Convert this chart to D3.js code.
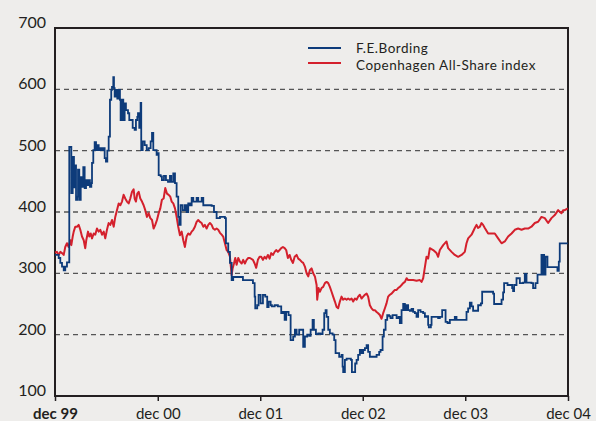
<!DOCTYPE html>
<html>
<head>
<meta charset="utf-8">
<script src="https://cdn.jsdelivr.net/npm/d3@7"></script>
<style>
  html, body { margin: 0; padding: 0; background: #eeedeb; }
  svg { display: block; }
  text { font-family: Lato, "Open Sans", sans-serif; fill: #231f20; }
</style>
</head>
<body>
<svg id="chart" width="596" height="421"></svg>
<script>
// ---- data (months since 1 Dec 1999, value) ----
const startDate = new Date(1999, 11, 1);
const endDate = new Date(2004, 11, 1);
const yTicks = [100, 200, 300, 400, 500, 600, 700];
const gridValues = [200, 300, 400, 500, 600];
const xTickLabels = ["dec 99", "dec 00", "dec 01", "dec 02", "dec 03", "dec 04"];
const seriesNames = ["F.E.Bording", "Copenhagen All-Share index"];

const bordingMonths = [0,0.23,0.43,0.62,0.82,1.02,1.20,1.40,1.60,1.67,1.79,1.91,2.07,2.22,2.30,2.46,2.61,2.69,2.84,3.01,3.16,3.31,3.47,3.63,3.78,3.94,4.09,4.25,4.33,4.48,4.64,4.80,4.95,5.11,5.30,5.50,5.70,5.81,5.96,6.12,6.28,6.43,6.58,6.67,6.82,6.90,6.98,7.13,7.29,7.45,7.60,7.68,7.84,7.99,8.15,8.30,8.54,8.69,8.92,9.09,9.32,9.47,9.63,9.71,9.86,10.02,10.09,10.26,10.49,10.73,10.96,11.19,11.35,11.50,11.73,11.89,12.05,12.13,12.36,12.51,12.75,12.98,13.22,13.45,13.60,13.84,14.04,14.23,14.42,14.54,14.70,14.94,15.20,15.40,15.59,15.79,15.99,16.18,16.57,16.76,17.16,17.35,17.93,18.33,18.60,18.91,19.30,19.88,20.00,20.27,20.47,20.67,20.85,21.60,21.99,22.77,23.16,23.36,23.43,23.66,23.82,24.06,24.33,24.60,24.83,24.99,25.23,25.38,25.70,26.08,26.47,26.67,26.87,27.05,27.33,27.57,27.87,28.07,28.27,28.57,28.85,29.04,29.24,29.51,29.74,29.91,30.14,30.29,30.53,30.80,31.08,31.31,31.50,31.66,31.78,31.97,32.16,32.48,32.67,32.83,33.06,33.25,33.53,33.65,33.72,33.92,34.12,34.39,34.62,34.74,34.97,35.12,35.29,35.47,35.67,35.87,36.06,36.26,36.46,36.64,36.84,37.23,37.63,37.93,38.09,38.33,38.48,38.68,38.87,39.10,39.26,39.50,39.77,39.97,40.20,40.35,40.55,40.74,40.94,41.14,41.32,41.52,41.72,41.91,42.11,42.30,42.49,42.77,43.08,43.28,43.47,43.66,43.74,43.98,44.06,44.44,44.83,45.03,45.30,45.53,45.70,45.93,46.20,46.59,46.78,46.98,47.95,48.15,48.34,48.54,48.74,48.92,49.44,49.51,49.83,49.98,51.07,51.26,51.38,52.05,52.25,52.43,52.55,52.95,53.49,53.60,53.72,54.00,54.39,54.77,54.97,55.17,55.75,55.94,56.22,56.46,56.84,56.92,56.99,57.11,57.23,57.39,57.62,58.28,58.79,58.95,59.06,60.00];
const bordingValues = [330,330,325,317,311,305,311,318,318,506,506,431,490,440,476,420,425,469,420,457,441,473,439,452,444,452,441,447,480,501,514,501,509,501,504,501,504,488,482,500,523,583,599,604,620,602,588,599,585,599,583,550,583,550,577,566,561,550,550,537,534,550,555,561,537,578,501,515,509,501,504,515,529,501,501,493,496,460,458,452,459,452,449,459,449,463,447,425,392,379,411,403,411,400,414,411,423,417,423,417,423,411,411,410,400,390,392,390,349,335,317,289,294,294,289,289,284,262,243,248,265,251,265,262,245,254,248,246,248,246,235,237,224,237,232,191,197,208,200,208,208,180,197,200,198,208,224,208,201,202,201,208,235,240,229,208,202,200,191,170,170,164,167,148,139,159,161,161,159,139,139,153,159,167,175,170,175,178,183,172,164,164,167,172,175,197,208,224,232,230,227,232,232,227,229,219,240,250,240,248,240,239,242,237,235,229,240,237,235,229,230,216,212,216,229,229,227,229,240,240,221,219,224,224,229,224,224,237,243,252,246,239,239,248,251,270,270,267,250,250,257,269,284,281,276,271,281,292,284,285,299,285,284,276,284,298,298,330,298,330,298,327,310,310,304,319,349,349];

const indexMonths = [0,0.23,0.43,0.62,0.82,1.02,1.20,1.40,1.60,1.79,1.91,2.07,2.19,2.37,2.57,2.77,2.96,3.16,3.36,3.54,3.66,3.86,4.01,4.18,4.33,4.53,4.71,4.91,5.11,5.30,5.50,5.70,5.88,6.08,6.28,6.47,6.67,6.87,7.05,7.25,7.45,7.64,7.84,8.03,8.22,8.42,8.62,8.81,9.01,9.20,9.32,9.47,9.63,9.79,9.98,10.18,10.37,10.56,10.76,10.96,11.15,11.35,11.54,11.73,11.93,12.13,12.32,12.51,12.71,12.90,13.10,13.30,13.49,13.65,13.84,14.04,14.23,14.42,14.62,14.82,15.01,15.20,15.40,15.59,15.79,15.99,16.18,16.37,16.57,16.76,16.96,17.16,17.35,17.54,17.74,17.93,18.13,18.33,18.51,18.71,18.91,19.10,19.30,19.50,19.68,19.88,20.08,20.27,20.47,20.67,20.78,20.94,21.09,21.25,21.44,21.64,21.84,22.02,22.22,22.42,22.61,22.81,23.16,23.36,23.54,23.74,23.94,24.13,24.33,24.53,24.71,24.91,25.11,25.30,25.50,25.70,25.88,26.08,26.28,26.47,26.67,26.87,27.05,27.25,27.45,27.64,27.84,28.04,28.27,28.46,28.66,28.85,29.04,29.24,29.44,29.63,29.82,30.02,30.21,30.41,30.61,30.68,30.84,30.99,31.19,31.38,31.58,31.78,31.97,32.16,32.36,32.55,32.75,32.95,33.13,33.33,33.53,33.72,33.92,34.12,34.30,34.50,34.70,34.89,35.09,35.29,35.47,35.67,35.87,36.06,36.26,36.46,36.64,36.84,37.04,37.23,37.43,37.63,37.81,38.01,38.21,38.40,38.60,38.79,38.98,39.18,39.38,39.57,39.77,39.97,40.15,40.35,40.55,40.74,40.94,41.14,41.32,41.91,42.30,42.69,42.89,43.08,43.28,43.47,43.66,43.86,44.25,44.64,44.83,45.03,45.42,45.81,46.00,46.40,46.78,47.17,47.57,47.95,48.15,48.34,48.74,49.12,49.32,49.51,49.71,49.91,50.09,50.29,50.68,51.07,51.46,51.85,52.25,52.63,53.02,53.42,53.80,54.19,54.59,54.97,55.36,55.75,56.14,56.53,56.92,57.31,57.70,58.09,58.48,58.87,59.26,59.45,59.65,60.00];
const indexValues = [334,335,330,335,333,330,343,349,343,354,346,360,368,376,376,379,371,360,354,341,354,368,360,365,357,365,363,373,368,371,363,368,357,371,382,379,387,376,392,403,414,411,417,428,422,417,414,422,433,437,422,417,430,433,422,417,411,403,392,398,390,387,373,379,387,398,406,420,422,439,430,428,425,417,414,406,392,376,362,368,354,343,360,365,363,368,371,376,384,387,384,382,376,379,373,379,382,379,373,371,373,371,366,363,360,349,338,335,327,297,308,316,325,314,325,319,316,322,316,322,325,325,322,316,309,322,327,327,322,327,324,330,324,333,330,335,338,335,338,341,343,341,338,325,330,322,317,327,330,324,322,319,317,311,300,295,305,308,300,295,281,257,276,270,276,278,284,286,284,278,270,262,254,245,243,254,262,257,259,257,259,257,259,254,259,257,262,265,259,262,265,267,262,248,243,240,240,237,235,232,226,235,243,251,262,265,267,270,273,273,276,278,281,284,286,292,289,289,288,289,286,292,310,327,324,341,338,333,327,338,346,352,341,335,330,327,330,335,349,357,363,374,379,374,376,382,379,374,365,365,365,357,349,352,360,365,371,373,371,373,373,376,382,384,392,390,382,390,395,403,398,403,403,406];

// ---- layout ----
const svg = d3.select("#chart");
const plot = { left: 55, right: 568, top: 28, bottom: 396 };

const x = d3.scaleTime().domain([startDate, endDate]).range([plot.left, plot.right]);
const y = d3.scaleLinear().domain([100, 700]).range([plot.bottom, plot.top]);

const toDate = m => new Date(startDate.getTime() + m * 30.4375 * 86400000);
const bording = bordingMonths.map((m, i) => ({ date: toDate(m), value: bordingValues[i] }));
const index = indexMonths.map((m, i) => ({ date: toDate(m), value: indexValues[i] }));

// gridlines
svg.append("g").selectAll("line").data(gridValues).join("line")
  .attr("x1", plot.left).attr("x2", plot.right)
  .attr("y1", d => y(d)).attr("y2", d => y(d))
  .attr("stroke", "#555").attr("stroke-width", 1.3)
  .attr("stroke-dasharray", "5,4");

// frame
svg.append("rect")
  .attr("x", plot.left).attr("y", plot.top)
  .attr("width", plot.right - plot.left).attr("height", plot.bottom - plot.top)
  .attr("fill", "none").attr("stroke", "#231f20").attr("stroke-width", 2);

// y labels
svg.append("g").selectAll("text").data(yTicks).join("text")
  .attr("x", 46).attr("y", d => y(d))
  .attr("text-anchor", "end")
  .attr("font-size", 16)
  .text(d => d);

// x axis ticks + labels
const xTickDates = d3.range(0, 6).map(i => new Date(1999 + i, 11, 1));
const xAxis = d3.axisBottom(x).tickValues(xTickDates).tickSize(5).tickFormat((d, i) => xTickLabels[i]);
const xg = svg.append("g").attr("transform", `translate(0,${plot.bottom})`).call(xAxis);
xg.select(".domain").remove();
xg.selectAll(".tick line").attr("stroke", "#231f20").attr("stroke-width", 1.5);
xg.selectAll(".tick text")
  .attr("y", 23).attr("dy", 0)
  .attr("font-size", 15)
  .attr("font-family", "Lato, 'Open Sans', sans-serif")
  .attr("fill", "#231f20")
  .attr("font-weight", (d, i) => i === 0 ? "bold" : "normal");

// lines
const lineStep = d3.line().x(d => x(d.date)).y(d => y(d.value)).curve(d3.curveStepAfter);
const lineLin = d3.line().x(d => x(d.date)).y(d => y(d.value));

svg.append("path").datum(index)
  .attr("d", lineLin).attr("fill", "none")
  .attr("stroke", "#d4202c").attr("stroke-width", 2).attr("stroke-linejoin", "round");
svg.append("path").datum(bording)
  .attr("d", lineStep).attr("fill", "none")
  .attr("stroke", "#0d3b7a").attr("stroke-width", 1.8);

// legend
const legendColors = ["#0d3b7a", "#d4202c"];
const lg = svg.append("g");
seriesNames.forEach((name, i) => {
  const yy = 48 + i * 15;
  lg.append("line").attr("x1", 308).attr("x2", 341).attr("y1", yy).attr("y2", yy)
    .attr("stroke", legendColors[i]).attr("stroke-width", 2);
  lg.append("text").attr("x", 356).attr("y", 53 + i * 16.5)
    .attr("font-size", 13.5).attr("letter-spacing", 0.5).text(name);
});
</script>
</body>
</html>
